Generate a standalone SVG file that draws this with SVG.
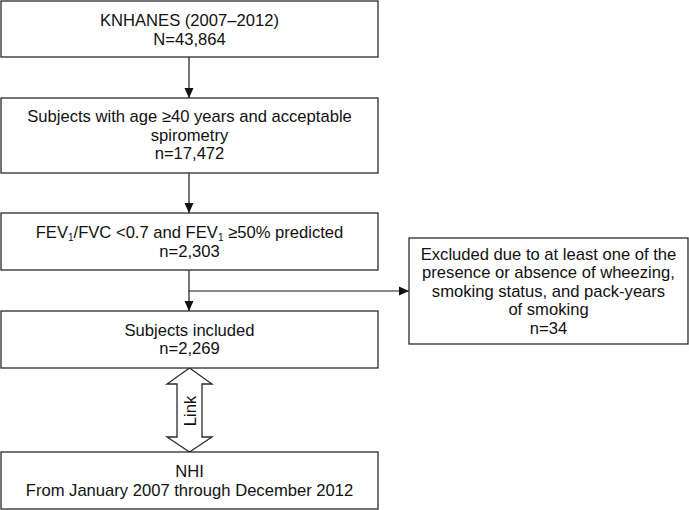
<svg xmlns="http://www.w3.org/2000/svg" width="689" height="510" viewBox="0 0 689 510">
<style>
.box{fill:#fff;stroke:#2a2a2a;stroke-width:1.3}
.t{font-family:"Liberation Sans",Arial,sans-serif;font-size:16.6px;fill:#111;text-anchor:middle}
.ln{fill:none;stroke:#1a1a1a;stroke-width:1.2}
.sub{font-size:10px}
</style>
<defs>
<marker id="ah" markerWidth="10" markerHeight="10" refX="10" refY="5" orient="auto" markerUnits="userSpaceOnUse">
<path d="M0,0.5 L10,5 L0,9.5 Z" fill="#111"/>
</marker>
</defs>
<g id="connectors">
<line class="ln" x1="189" y1="57" x2="189" y2="98" marker-end="url(#ah)"/>
<line class="ln" x1="189" y1="173" x2="189" y2="213" marker-end="url(#ah)"/>
<line class="ln" x1="189" y1="270" x2="189" y2="311" marker-end="url(#ah)"/>
<line class="ln" x1="189" y1="291" x2="409" y2="291" marker-end="url(#ah)"/>
<g id="link">
<polygon class="box" points="189.5,368 212,384 202,384 202,437 212,437 189.5,452 167,437 177,437 177,384 167,384"/>
<text class="t" transform="translate(195.5,411) rotate(-90)">Link</text>
</g>
</g>
<g id="knhanes">
<rect class="box" x="1" y="1" width="377" height="56"/>
<text class="t" x="189.5" y="26">KNHANES (2007–2012)</text>
<text class="t" x="189.5" y="44.5">N=43,864</text>
</g>
<g id="age40">
<rect class="box" x="1" y="98" width="377" height="75"/>
<text class="t" x="189.5" y="122">Subjects with age ≥40 years and acceptable</text>
<text class="t" x="189.5" y="140.5">spirometry</text>
<text class="t" x="189.5" y="159">n=17,472</text>
</g>
<g id="fev">
<rect class="box" x="1" y="213" width="377" height="57"/>
<text class="t" x="189.5" y="238">FEV<tspan class="sub" dy="3">1</tspan><tspan dy="-3">/FVC &lt;0.7 and FEV</tspan><tspan class="sub" dy="3">1</tspan><tspan dy="-3"> ≥50% predicted</tspan></text>
<text class="t" x="189.5" y="256.5">n=2,303</text>
</g>
<g id="excluded">
<rect class="box" x="409" y="238" width="279" height="106"/>
<text class="t" x="548.5" y="259.5">Excluded due to at least one of the</text>
<text class="t" x="548.5" y="278">presence or absence of wheezing,</text>
<text class="t" x="548.5" y="296.5">smoking status, and pack-years</text>
<text class="t" x="548.5" y="315">of smoking</text>
<text class="t" x="548.5" y="333.5">n=34</text>
</g>
<g id="included">
<rect class="box" x="1" y="311" width="377" height="57"/>
<text class="t" x="189.5" y="335.5">Subjects included</text>
<text class="t" x="189.5" y="354">n=2,269</text>
</g>
<g id="nhi">
<rect class="box" x="1" y="452" width="377" height="57"/>
<text class="t" x="189.5" y="477">NHI</text>
<text class="t" x="189.5" y="495.5">From January 2007 through December 2012</text>
</g>
</svg>
